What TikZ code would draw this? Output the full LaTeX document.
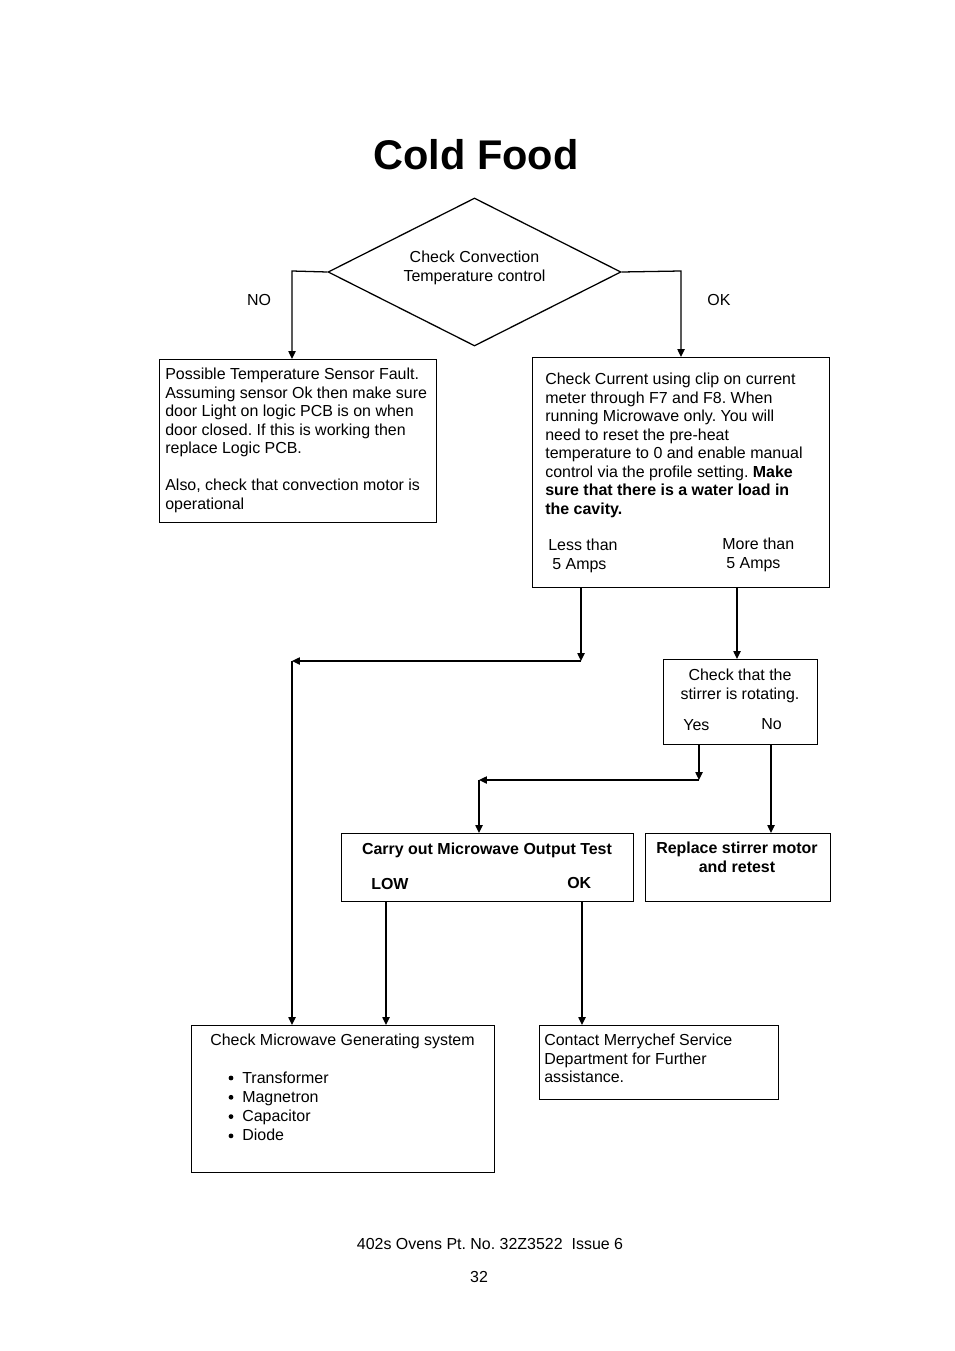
\documentclass[tikz,border=0pt]{standalone}
\usepackage{fontspec}
\setmainfont{Liberation Sans}
\usetikzlibrary{arrows.meta,shapes.geometric}
\frenchspacing

\newcommand{\pxu}{0.022013cm}

\tikzset{
  txt/.style={font=\fontsize{10}{11.6}\selectfont, inner sep=0pt, align=left},
  box/.style={draw, line width=0.8pt, inner sep=0pt, anchor=north west},
  boxsz/.style 2 args={minimum width=#1*\pxu, minimum height=#2*\pxu},
  arr/.style={line width=0.8pt, -{Triangle[length=5pt,width=4.6pt]}},
}

\begin{document}
\begin{tikzpicture}[x=0.022013cm,y=-0.022013cm]
  \useasboundingbox (0,0) rectangle (954,1351);

  % title
  \node[font=\fontsize{26}{30}\selectfont\bfseries, inner sep=0pt, anchor=base] (title) at (476,170) {Cold Food};

  % decision
  \node[draw, diamond, line width=0.8pt, inner sep=0pt, minimum width=293*\pxu, minimum height=148*\pxu] (chk) at (474.5,272) {};
  \node[txt, align=center, anchor=north] at (474.5,250.6) {Check Convection\\Temperature control};
  \node[txt, anchor=base] (no) at (259,306) {NO};
  \node[txt, anchor=base] (ok) at (719,306) {OK};

  % boxes
  \node[box, boxsz={277}{163}] (sensor) at (159,359) {};
  \node[box, boxsz={297}{230}] (current) at (532,357) {};
  \node[box, boxsz={154}{85}] (stir) at (663,659) {};
  \node[box, boxsz={292}{68}] (mwtest) at (341,833) {};
  \node[box, boxsz={185}{68}] (motor) at (645,833) {};
  \node[box, boxsz={303}{147}] (gen) at (191,1025) {};
  \node[box, boxsz={239}{74}] (contact) at (539,1025) {};

  % box texts
  \node[txt, anchor=north west] at (165,367.6) {Possible Temperature Sensor Fault.\\
    Assuming sensor Ok then make sure\\
    door Light on logic PCB is on when\\
    door closed. If this is working then\\
    replace Logic PCB.\\[11.6pt]
    Also, check that convection motor is\\
    operational};

  \node[txt, anchor=north west] at (545,372.6) {Check Current using clip on current\\
    meter through F7 and F8. When\\
    running Microwave only. You will\\
    need to reset the pre-heat\\
    temperature to 0 and enable manual\\
    control via the profile setting. \textbf{Make}\\
    \textbf{sure that there is a water load in}\\
    \textbf{the cavity.}};
  \node[txt, anchor=north west] at (548,538.6) {Less than\\\hspace*{2.5pt}5 Amps};
  \node[txt, anchor=north west] at (722,537.6) {More than\\\hspace*{2.5pt}5 Amps};

  \node[txt, align=center, anchor=north] at (740,668.6) {Check that the\\stirrer is rotating.};
  \node[txt, anchor=base west] at (683,730) {Yes};
  \node[txt, anchor=base west] at (761,729) {No};

  \node[txt, anchor=base, font=\fontsize{10}{11.6}\selectfont\bfseries] at (487,854) {Carry out Microwave Output Test};
  \node[txt, anchor=base west, font=\fontsize{10}{11.6}\selectfont\bfseries] at (371,889) {LOW};
  \node[txt, anchor=base west, font=\fontsize{10}{11.6}\selectfont\bfseries] at (567,888) {OK};

  \node[txt, align=center, anchor=north, font=\fontsize{10}{11.6}\selectfont\bfseries] at (737,841.6) {Replace stirrer motor\\and retest};

  \node[txt, anchor=base west] at (210,1045) {Check Microwave Generating system};
  \foreach \bname [count=\i, evaluate=\i as \yb using 1063.7+19.3*\i] in {Transformer,Magnetron,Capacitor,Diode} {
    \fill (231,\yb-5) circle[radius=1.5pt];
    \node[txt, anchor=base west] at (242,\yb) {\bname};
  }

  \node[txt, anchor=north west] at (544,1033.6) {Contact Merrychef Service\\
    Department for Further\\
    assistance.};

  % connectors
  \coordinate (nok) at (292,271);
  \coordinate (okk) at (681,271);
  \coordinate (lessk) at (581,661);
  \coordinate (leftk) at (292,661);
  \coordinate (morex) at (737,0);
  \coordinate (yesk) at (699,780);
  \coordinate (testk) at (479,780);
  \coordinate (nox) at (771,0);
  \coordinate (lowx) at (386,0);
  \coordinate (passx) at (582,0);

  \draw[arr] (chk.west) -- (nok) -- (nok |- sensor.north);
  \draw[arr] (chk.east) -- (okk) -- (okk |- current.north);
  \draw[arr] (current.south -| lessk) -- (lessk);
  \draw[arr] (lessk) -- (leftk);
  \draw[arr] (leftk) -- (leftk |- gen.north);
  \draw[arr] (current.south -| morex) -- (stir.north -| morex);
  \draw[arr] (stir.south -| yesk) -- (yesk);
  \draw[arr] (yesk) -- (testk);
  \draw[arr] (testk) -- (testk |- mwtest.north);
  \draw[arr] (stir.south -| nox) -- (motor.north -| nox);
  \draw[arr] (mwtest.south -| lowx) -- (gen.north -| lowx);
  \draw[arr] (mwtest.south -| passx) -- (contact.north -| passx);

  % footer
  \node[txt, anchor=base] (foot) at (490,1249) {402s Ovens Pt. No. 32Z3522~~Issue 6};
  \node[txt, anchor=base] (page) at (479,1282) {32};
\end{tikzpicture}
\end{document}
